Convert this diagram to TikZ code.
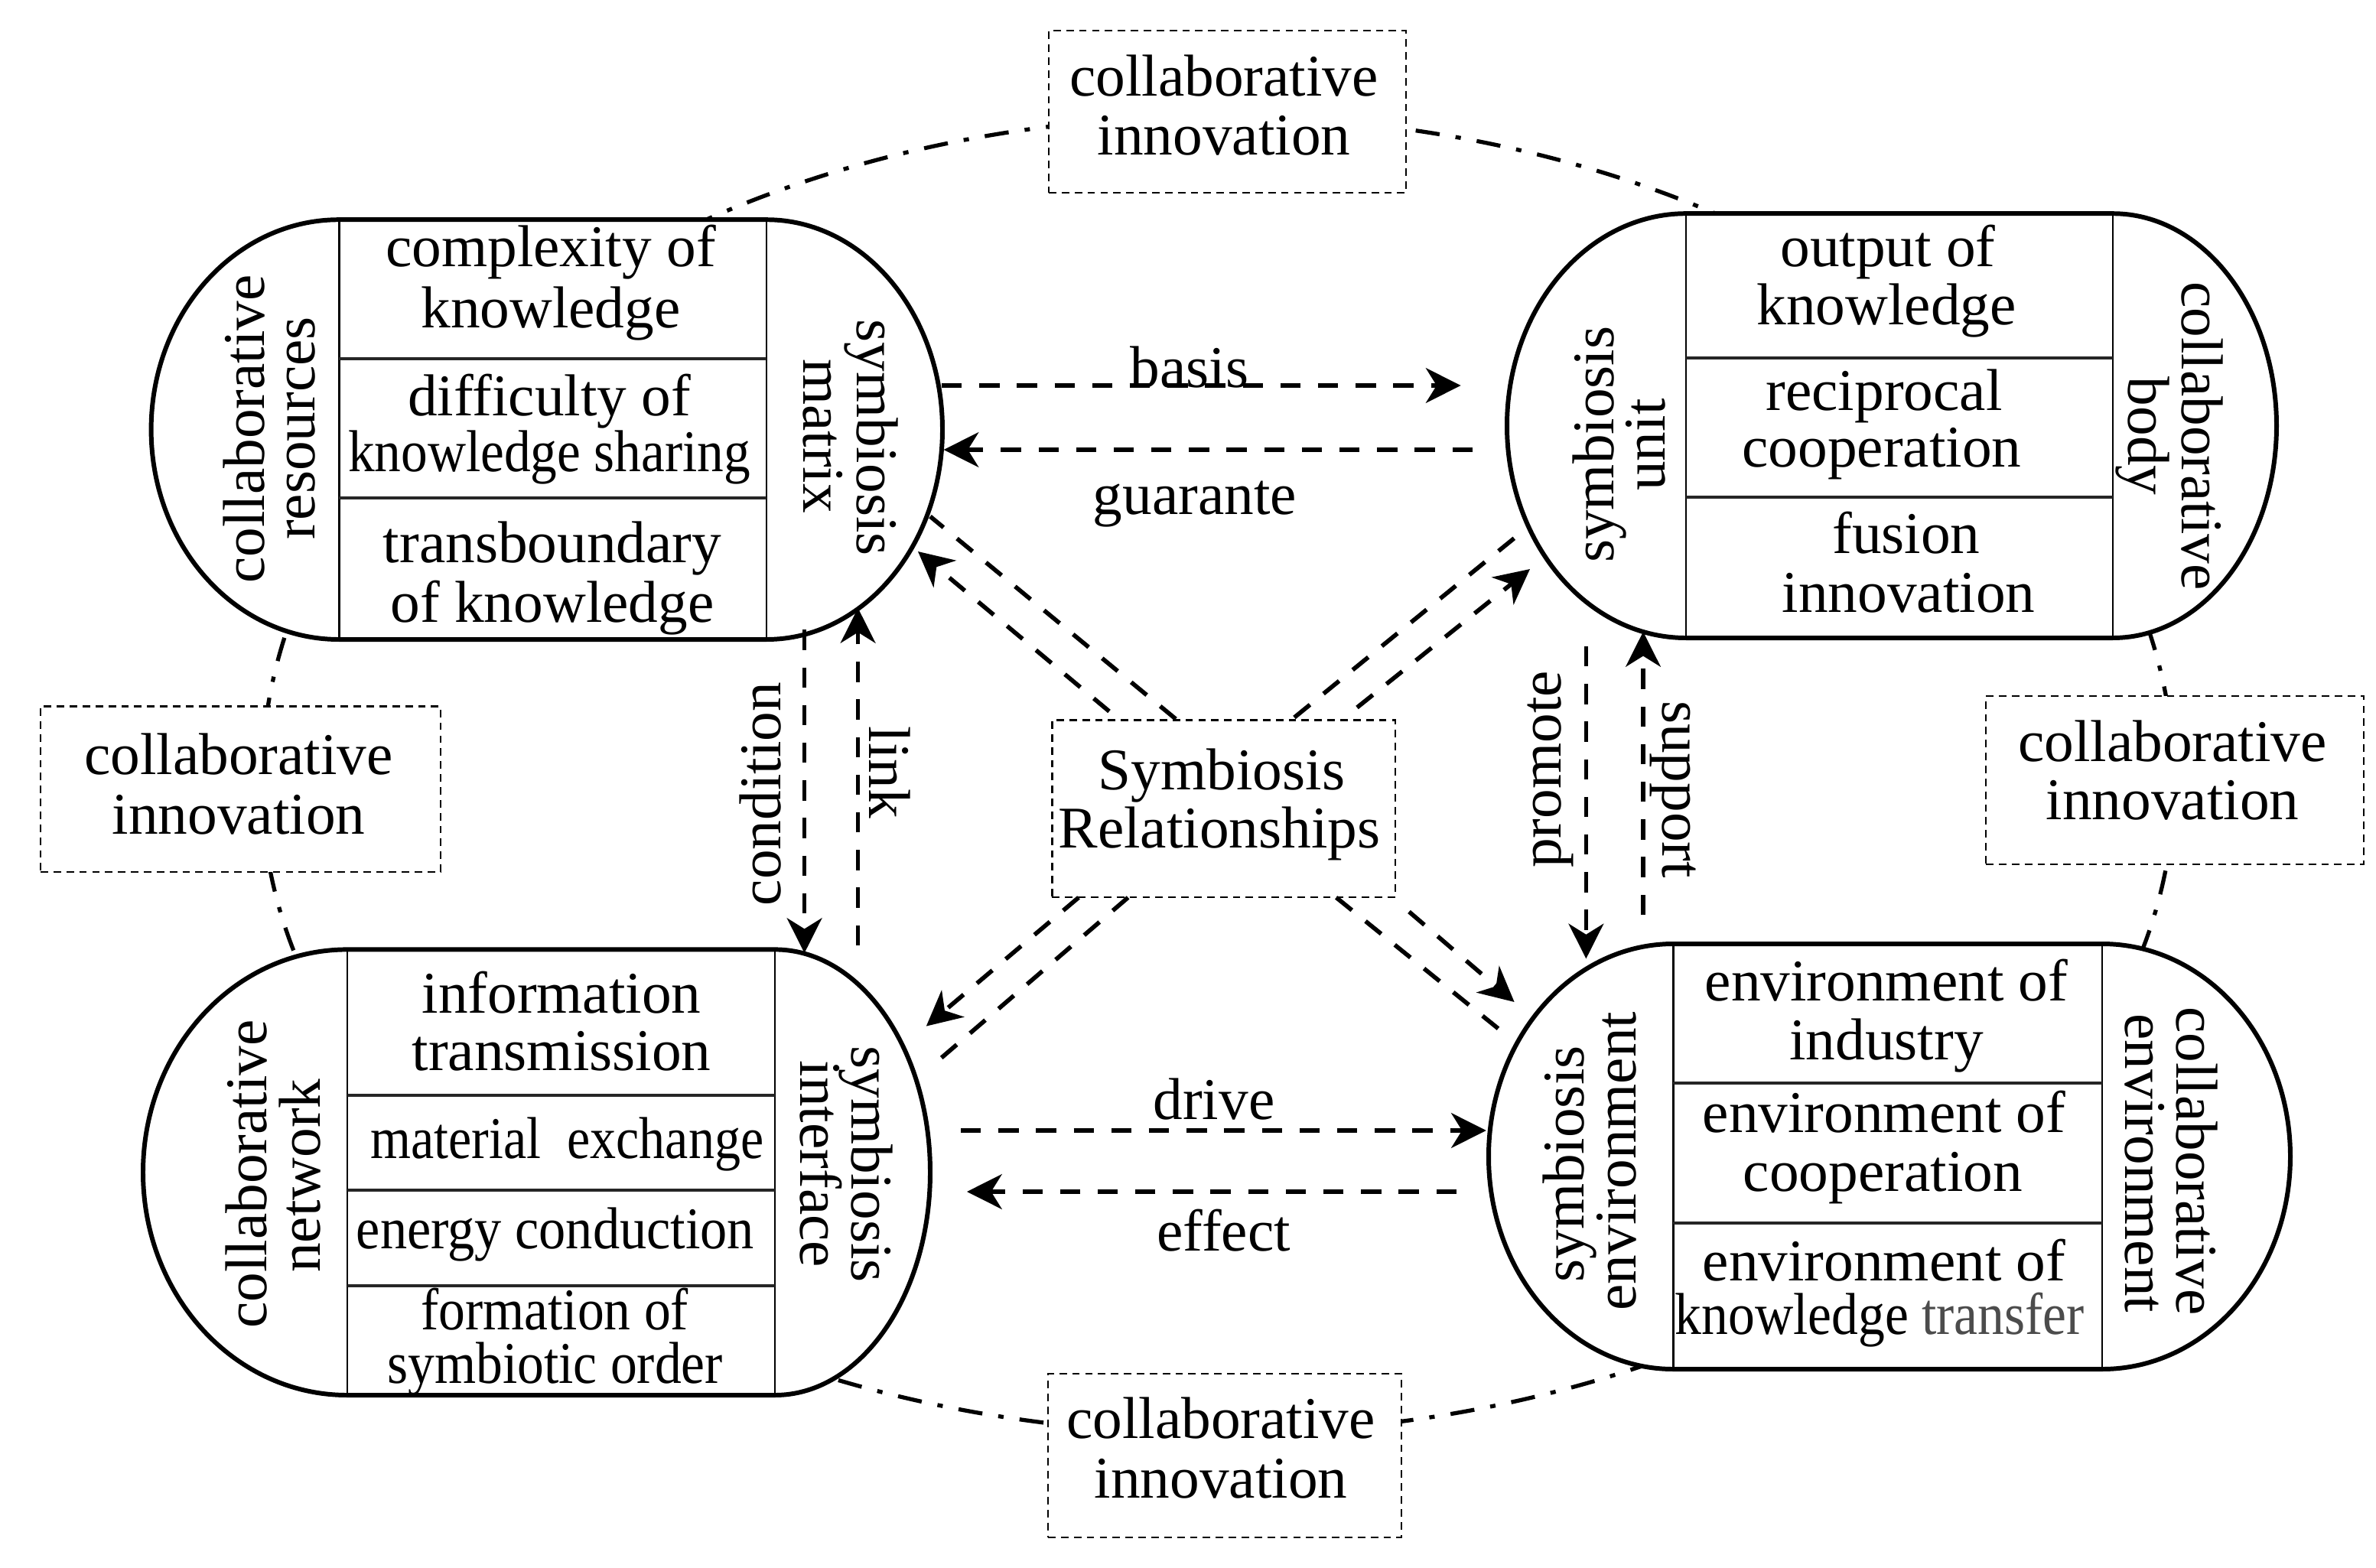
\documentclass[tikz,border=0pt]{standalone}
\usepackage{fontspec}
\usepackage{graphicx}
\setmainfont{Liberation Serif}
\usetikzlibrary{arrows.meta}
\begin{document}
\begin{tikzpicture}[x=0.02cm,y=0.02cm,
  every node/.style={font=\fontsize{22}{22}\selectfont, inner sep=0pt},
  txt/.style={anchor=base},
  rl/.style={anchor=base, rotate=90},
  rr/.style={anchor=base, rotate=-90},
  capsule/.style={draw, line width=1.7pt, fill=white},
  innerln/.style={line width=0.8pt},
  divider/.style={line width=1.1pt, draw=black!85},
  dbox/.style={draw, line width=0.8pt, dash pattern=on 2.8pt off 2pt, fill=white},
  orbit/.style={line width=1.5pt, dash pattern=on 9pt off 6pt on 2pt off 6pt},
  rel/.style={line width=1.6pt, dash pattern=on 7.5pt off 6.5pt},
  relarrow/.style={rel, -{Stealth[length=13pt, width=13pt, inset=4pt]}}
]
\useasboundingbox (0,0) rectangle (1553,-1025);

% orbit of collaborative innovation
\draw[orbit] (171,-512) arc[start angle=180,end angle=0,x radius=625,y radius=436]
             arc[start angle=0,end angle=-180,x radius=625,y radius=425];

% ---------- capsule TL ----------
\draw[capsule] (221.6,-143.6) -- (501,-143.6) arc[start angle=90,end angle=-90,x radius=115,y radius=137.2]
  -- (221.6,-418) arc[start angle=270,end angle=90,x radius=122.8,y radius=137.2] -- cycle;
\draw[innerln] (221.6,-143.6) -- (221.6,-418);
\draw[innerln] (501,-143.6) -- (501,-418);
\draw[divider] (221.6,-234.5) -- (501,-234.5);
\draw[divider] (221.6,-325.4) -- (501,-325.4);

% ---------- capsule TR ----------
\draw[capsule] (1102,-139.6) -- (1381,-139.6) arc[start angle=90,end angle=-90,x radius=107,y radius=138.7]
  -- (1102,-417) arc[start angle=270,end angle=90,x radius=117,y radius=138.7] -- cycle;
\draw[innerln] (1102,-139.6) -- (1102,-417);
\draw[innerln] (1381,-139.6) -- (1381,-417);
\draw[divider] (1102,-234) -- (1381,-234);
\draw[divider] (1102,-325) -- (1381,-325);

% ---------- capsule BL ----------
\draw[capsule] (227,-620.7) -- (506.5,-620.7) arc[start angle=90,end angle=-90,x radius=101.5,y radius=145.65]
  -- (227,-912) arc[start angle=270,end angle=90,x radius=133.5,y radius=145.65] -- cycle;
\draw[innerln] (227,-620.7) -- (227,-912);
\draw[innerln] (506.5,-620.7) -- (506.5,-912);
\draw[divider] (227,-716) -- (506.5,-716);
\draw[divider] (227,-778) -- (506.5,-778);
\draw[divider] (227,-840.5) -- (506.5,-840.5);

% ---------- capsule BR ----------
\draw[capsule] (1093.7,-617) -- (1374,-617) arc[start angle=90,end angle=-90,x radius=123,y radius=139]
  -- (1093.7,-895) arc[start angle=270,end angle=90,x radius=120.7,y radius=139] -- cycle;
\draw[innerln] (1093.7,-617) -- (1093.7,-895);
\draw[innerln] (1374,-617) -- (1374,-895);
\draw[divider] (1093.7,-708) -- (1374,-708);
\draw[divider] (1093.7,-799.5) -- (1374,-799.5);

% ---------- dashed boxes ----------
\node[dbox, minimum width=4.67cm, minimum height=2.12cm] (topbox) at (802.25,-73) {};
\node[dbox, minimum width=4.62cm, minimum height=2.14cm] (botbox) at (800.5,-951.5) {};
\node[dbox, minimum width=5.23cm, minimum height=2.166cm] (leftbox) at (157.25,-515.85) {};
\node[dbox, minimum width=4.94cm, minimum height=2.2cm] (rightbox) at (1421.5,-510) {};
\node[dbox, minimum width=4.486cm, minimum height=2.316cm] (relbox) at (799.85,-528.6) {};

\node[txt] (t1a) at (800,-62.5) {collaborative};
\node[txt] (t1b) at (800,-101) {innovation};
\node[txt] (t2a) at (798,-940) {collaborative};
\node[txt] (t2b) at (798,-979) {innovation};
\node[txt] (t3a) at (156,-506) {collaborative};
\node[txt] (t3b) at (156,-545) {innovation};
\node[txt] (t4a) at (1420,-497.5) {collaborative};
\node[txt] (t4b) at (1420,-535.5) {innovation};
\node[txt] (r1) at (798.5,-516) {Symbiosis};
\node[txt] (r2) at (797,-554) {Relationships};

% ---------- TL texts ----------
\node[txt] (a1) at (360,-174) {complexity of};
\node[txt] (a2) at (360,-214) {knowledge};
\node[txt] (a3) at (359,-271.5) {difficulty of};
\node[txt] (a4) at (359,-308) {\scalebox{0.897}[1]{knowledge sharing}};
\node[txt] (a5) at (361,-367.5) {transboundary};
\node[txt] (a6) at (361,-406.7) {of knowledge};
\node[rl] (a7) at (172.5,-280.5) {collaborative};
\node[rl] (a8) at (205.8,-280) {resources};
\node[rr] (a9) at (560,-286) {symbiosis};
\node[rr] (a10) at (525,-285) {matrix};

% ---------- TR texts ----------
\node[txt] (b1) at (1234,-174) {output of};
\node[txt] (b2) at (1233,-212) {knowledge};
\node[txt] (b3) at (1231.5,-268) {reciprocal};
\node[txt] (b4) at (1230,-305) {cooperation};
\node[txt] (b5) at (1246,-361.5) {fusion};
\node[txt] (b6) at (1247.5,-400) {innovation};
\node[rl] (b7) at (1054.5,-290.6) {symbiosis};
\node[rl] (b8) at (1088,-290.8) {unit};
\node[rr] (b9) at (1426,-285) {collaborative};
\node[rr] (b10) at (1391,-285) {body};

% ---------- BL texts ----------
\node[txt] (c1) at (367,-662) {information};
\node[txt] (c2) at (367,-699.7) {transmission};
\node[txt] (c3) at (370.7,-757) {\scalebox{0.88}[1]{material\ \ exchange}};
\node[txt] (c4) at (363,-816) {\scalebox{0.91}[1]{energy conduction}};
\node[txt] (c5) at (362.6,-869) {\scalebox{0.9}[1]{formation of}};
\node[txt] (c6) at (362.8,-904) {\scalebox{0.9}[1]{symbiotic order}};
\node[rl] (c7) at (174,-767.5) {collaborative};
\node[rl] (c8) at (209,-768.5) {network};
\node[rr] (c9) at (556.7,-761) {symbiosis};
\node[rr] (c10) at (523,-761) {interface};

% ---------- BR texts ----------
\node[txt] (d1) at (1233,-654) {environment of};
\node[txt] (d2) at (1233,-692.5) {industry};
\node[txt] (d3) at (1231.5,-740) {environment of};
\node[txt] (d4) at (1230.7,-778.6) {cooperation};
\node[txt] (d5) at (1231.5,-837) {environment of};
\node[txt] (d6) at (1228.6,-872) {\scalebox{0.9}[1]{knowledge \textcolor{black!70}{transfer}}};
\node[rl] (d7) at (1035,-761) {symbiosis};
\node[rl] (d8) at (1069,-759) {environment};
\node[rr] (d9) at (1422.8,-759) {collaborative};
\node[rr] (d10) at (1389,-760.5) {environment};

% ---------- connector end points ----------
\coordinate (bS) at (615.5,-252);  \coordinate (bE) at (954.8,-252);
\coordinate (gS) at (962.5,-294);  \coordinate (gE) at (616.8,-294);
\coordinate (cS) at (525.8,-411.7); \coordinate (cE) at (525.8,-623);
\coordinate (lS) at (560.8,-618);  \coordinate (lE) at (560.8,-397.5);
\coordinate (pS) at (1036.7,-422.5); \coordinate (pE) at (1036.7,-626.7);
\coordinate (sS) at (1074,-598);   \coordinate (sE) at (1074,-413);
\coordinate (dS) at (628,-739);    \coordinate (dE) at (971.4,-739);
\coordinate (eS) at (952,-779);    \coordinate (eE) at (632,-779);
\coordinate (tlA) at (725,-465);   \coordinate (tlAe) at (600,-360.5);
\coordinate (tlB) at (768.5,-470); \coordinate (tlBe) at (608,-337.6);
\coordinate (trA) at (887,-462.5); \coordinate (trAe) at (1000,-372);
\coordinate (trB) at (846,-469);   \coordinate (trBe) at (990,-351.6);
\coordinate (blA) at (705,-586.7); \coordinate (blAe) at (605.4,-670.8);
\coordinate (blB) at (737.3,-586.7); \coordinate (blBe) at (612.4,-694);
\coordinate (brA) at (921,-596);   \coordinate (brAe) at (989.8,-655);
\coordinate (brB) at (873.4,-586.7); \coordinate (brBe) at (985.6,-677.5);

% ---------- connectors ----------
\draw[relarrow] (bS) -- (bE);
\draw[relarrow] (gS) -- (gE);
\draw[relarrow] (cS) -- (cE);
\draw[relarrow] (lS) -- (lE);
\draw[relarrow] (pS) -- (pE);
\draw[relarrow] (sS) -- (sE);
\draw[relarrow] (dS) -- (dE);
\draw[relarrow] (eS) -- (eE);
\draw[relarrow] (tlA) -- (tlAe);
\draw[rel] (tlB) -- (tlBe);
\draw[relarrow] (trA) -- (trAe);
\draw[rel] (trB) -- (trBe);
\draw[relarrow] (blA) -- (blAe);
\draw[rel] (blB) -- (blBe);
\draw[relarrow] (brA) -- (brAe);
\draw[rel] (brB) -- (brBe);

% ---------- connector labels ----------
\node[txt] (lbasis) at (777.5,-253) {basis};
\node[txt] (lguar) at (781,-336) {guarante};
\node[txt] (ldrive) at (793.5,-731.7) {drive};
\node[txt] (leffect) at (799.8,-817.5) {effect};
\node[rl] (lcond) at (510,-519) {condition};
\node[rr] (llink) at (568,-505) {link};
\node[rl] (lprom) at (1020,-503) {promote};
\node[rr] (lsupp) at (1086.7,-516) {support};
\end{tikzpicture}
\end{document}
